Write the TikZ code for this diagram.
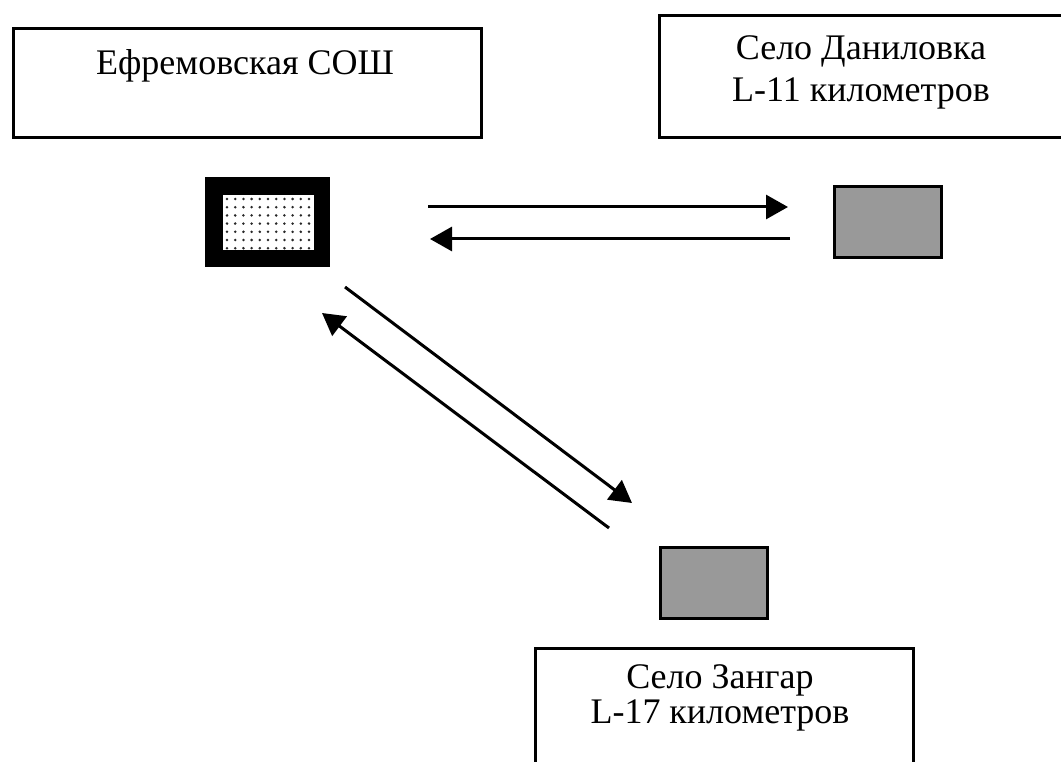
\documentclass[tikz,border=0pt]{standalone}
\usepackage{fontspec}
\setmainfont{Liberation Serif}
\usetikzlibrary{arrows.meta}
\definecolor{boxgray}{RGB}{153,153,153}
\definecolor{dotgray}{RGB}{40,40,40}
\tikzset{
  labelbox/.style={draw=black, line width=3pt, fill=white, inner sep=0pt, anchor=north west},
  village/.style={draw=black, line width=3pt, fill=boxgray, inner sep=0pt, anchor=north west, minimum width=107pt, minimum height=71pt},
  labeltext/.style={font=\fontsize{36}{42}\selectfont, align=center, inner sep=0pt, anchor=base},
  route/.style={line width=3pt, -{Triangle[length=22pt,width=24pt]}},
}
\begin{document}
\begin{tikzpicture}[x=1pt,y=-1pt]
\useasboundingbox (0,0) rectangle (1061,762);
\clip (0,0) rectangle (1061,762);
\fill[white] (0,0) rectangle (1061,762);
% label boxes
\node[labelbox, minimum width=468pt, minimum height=109pt] (schoolbox) at (11.5,27.5) {};
\node[labeltext] (schooltext) at (245,75) {Ефремовская СОШ};
\node[labelbox, minimum width=412pt, minimum height=122pt] (danbox) at (657.5,14) {};
\node[labeltext] (dantext) at (861,102) {Село Даниловка\\L-11 километров};
\node[labelbox, minimum width=378pt, minimum height=130pt] (zanbox) at (533.5,646.5) {};
\node[labeltext, font=\fontsize{36}{35}\selectfont] (zantext) at (720,723) {Село Зангар\\L-17 километров};
% school icon
\node[fill=black, inner sep=0pt, anchor=north west, minimum width=125pt, minimum height=90pt] (school) at (205,177) {};
\node[fill=white, inner sep=0pt, anchor=north west, minimum width=91pt, minimum height=55pt] (schoolin) at (223,195) {};
\foreach \i in {0,...,10}{
  \foreach \j in {0,...,6}{
    \fill[dotgray] (227+8.2*\i,199+8.2*\j) circle (1.4pt);
  }
}
% villages
\node[village] (dan) at (832.5,185.5) {};
\node[village] (zan) at (658.5,545.5) {};
% routes
\coordinate (h1s) at (428,207);
\coordinate (h1e) at (788,207);
\coordinate (h2s) at (790,239);
\coordinate (h2e) at (430,239);
\coordinate (d1s) at (345,287);
\coordinate (d1e) at (632,503);
\coordinate (d2s) at (609,528);
\coordinate (d2e) at (322,313);
\draw[route] (h1s) -- (h1e);
\draw[route] (h2s) -- (h2e);
\draw[route] (d1s) -- (d1e);
\draw[route] (d2s) -- (d2e);
\end{tikzpicture}
\end{document}
